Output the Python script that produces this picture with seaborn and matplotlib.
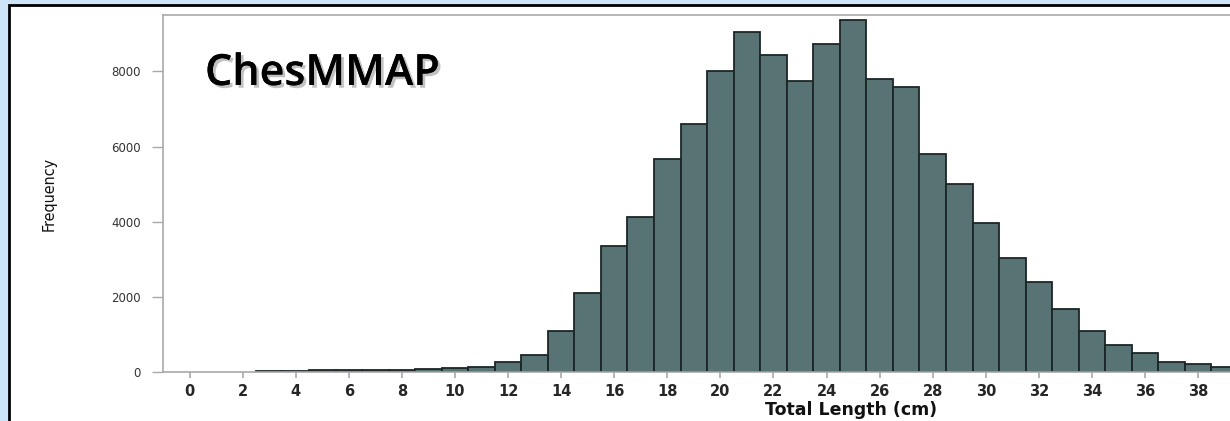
import pandas as pd
import seaborn as sns
import matplotlib.pyplot as plt
import matplotlib.patheffects as pe
from matplotlib.patches import Rectangle

# Total length bins (cm) and counts
length_cm = [3, 4, 5, 6, 7, 8, 9, 10, 11, 12, 13, 14, 15, 16, 17, 18, 19, 20, 21,
             22, 23, 24, 25, 26, 27, 28, 29, 30, 31, 32, 33, 34, 35, 36, 37, 38, 39]
frequency = [20, 25, 40, 40, 40, 40, 70, 100, 130, 260, 450, 1090, 2090, 3340, 4130,
             5670, 6610, 8010, 9050, 8430, 7740, 8740, 9360, 7800, 7590, 5800, 5000,
             3960, 3030, 2400, 1680, 1090, 720, 500, 270, 210, 120]
x_ticks = list(range(0, 39, 2))
y_ticks = [0, 2000, 4000, 6000, 8000]

df = pd.DataFrame({"length": length_cm, "freq": frequency})

sns.set_theme(style="ticks")
W, H = 1230, 421
fig = plt.figure(figsize=(W / 100, H / 100), dpi=100, facecolor="#cde5f9")

# white slide panel with black frame on the left / top
fig.add_artist(Rectangle((9 / W, -0.2), 1.5, 1.2 - 4.5 / H, transform=fig.transFigure,
                         facecolor="white", edgecolor="black", linewidth=2, zorder=0))

ax = fig.add_axes([163 / W, (H - 372) / H, 1 - 163 / W, (372 - 15) / H])
sns.histplot(data=df, x="length", weights="freq", discrete=True, color="#587373",
             edgecolor="#1c2626", linewidth=1.3, alpha=1, ax=ax)

ax.set_xlim(-1, 39.2)
ax.set_ylim(0, 9500)
ax.set_xticks(x_ticks)
ax.set_yticks(y_ticks)
ax.set_yticklabels([str(v) for v in y_ticks])

for s in ["top", "left", "bottom"]:
    ax.spines[s].set_color("#a9a9a9")
    ax.spines[s].set_linewidth(1.2)
ax.spines["right"].set_visible(False)

ax.tick_params(axis="x", length=4, width=1.2, color="#a9a9a9", labelsize=10.5, pad=5)
ax.tick_params(axis="y", length=8, width=1.0, color="#a9a9a9", labelsize=8.5, pad=8,
               labelcolor="#333333")
for lab in ax.get_xticklabels():
    lab.set_fontweight("bold")

ax.set_ylabel("")
ax.set_xlabel("Total Length (cm)", fontsize=12.5, fontweight="bold", color="#111111")
ax.xaxis.set_label_coords(0.645, -0.08)

fig.text(49 / W, (H - 194) / H, "Frequency", rotation=90, ha="center", va="center",
         family="DejaVu Sans", fontstretch="condensed", fontsize=11.5, color="#111111")

fig.text(205 / W, (H - 85) / H, "ChesMMAP", ha="left", va="baseline",
         family=["Open Sans", "DejaVu Sans"], fontweight="semibold", fontsize=31, color="black",
         path_effects=[pe.withSimplePatchShadow(offset=(2, -2), shadow_rgbFace="#777777", alpha=0.45),
                       pe.Normal()])

fig.savefig("out.png", dpi=100, facecolor=fig.get_facecolor())
